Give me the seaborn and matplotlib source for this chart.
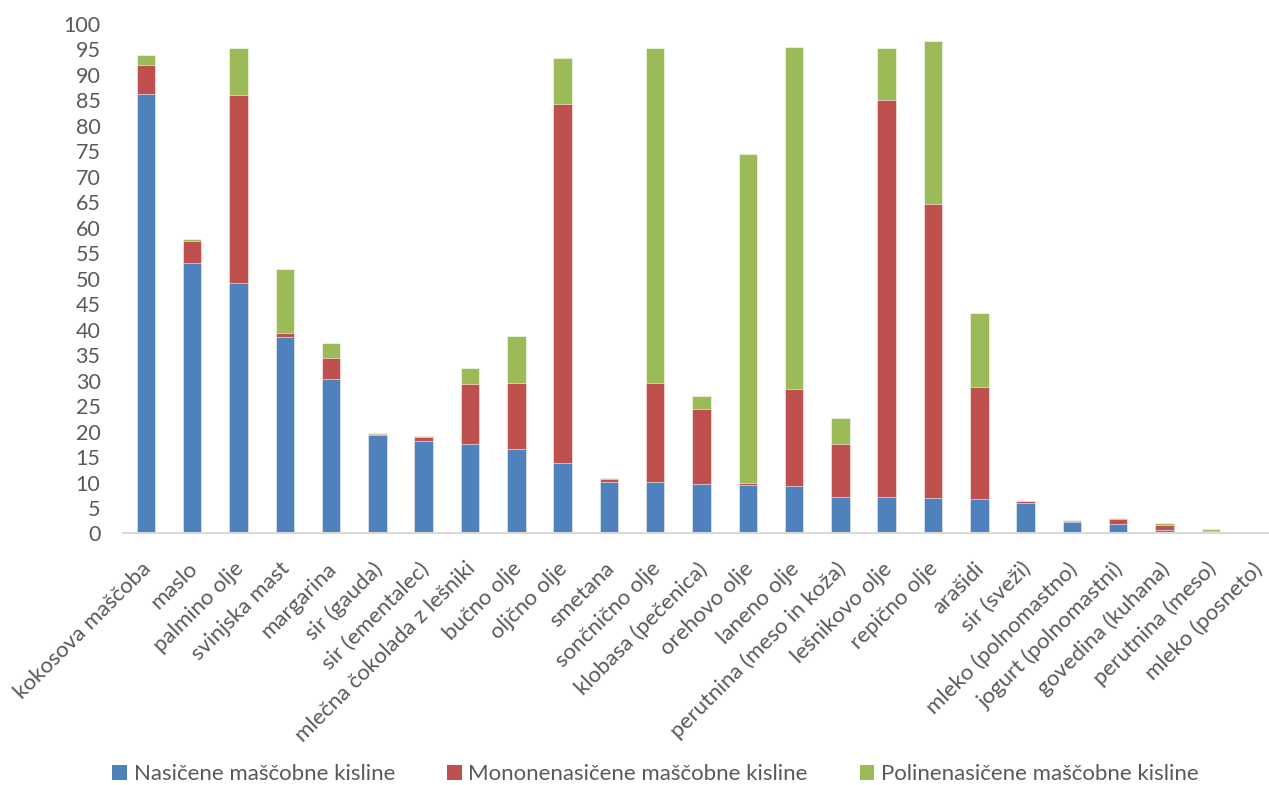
import matplotlib
matplotlib.use("Agg")
import matplotlib.pyplot as plt
from matplotlib.patches import Patch
import matplotlib.transforms as mtransforms
import numpy as np
import pandas as pd
import seaborn as sns

categories = [
    "kokosova maščoba", "maslo", "palmino olje", "svinjska mast", "margarina",
    "sir (gauda)", "sir (ementalec)", "mlečna čokolada z lešniki", "bučno olje",
    "oljčno olje", "smetana", "sončnično olje", "klobasa (pečenica)", "orehovo olje",
    "laneno olje", "perutnina (meso in koža)", "lešnikovo olje", "repično olje",
    "arašidi", "sir (sveži)", "mleko (polnomastno)", "jogurt (polnomastni)",
    "govedina (kuhana)", "perutnina (meso)", "mleko (posneto)",
]
nasicene = [86.3, 53.1, 49.1, 38.5, 30.3, 19.3, 18.1, 17.5, 16.5, 13.8, 10.2, 10.2,
            9.8, 9.6, 9.4, 7.2, 7.2, 7.0, 6.7, 6.0, 2.3, 1.9, 0.75, 0.1, 0.05]
mononenasicene = [5.7, 4.3, 36.9, 0.9, 4.2, 0.2, 0.8, 11.9, 13.1, 70.5, 0.5, 19.4,
                  14.7, 0.4, 19.0, 10.4, 77.9, 57.7, 22.1, 0.3, 0.15, 1.0, 0.95, 0.3, 0.05]
polinenasicene = [1.9, 0.5, 9.3, 12.5, 2.8, 0.3, 0.2, 3.1, 9.2, 9.1, 0.2, 65.6,
                  2.5, 64.4, 67.0, 5.0, 10.2, 32.0, 14.4, 0.1, 0.1, 0.15, 0.3, 0.4, 0.2]
series_names = ["Nasičene maščobne kisline", "Mononenasičene maščobne kisline",
                "Polinenasičene maščobne kisline"]
colors = ["#4F81BD", "#C0504D", "#9BBB59"]

df = pd.DataFrame({"kat": categories, "s": nasicene, "m": mononenasicene, "p": polinenasicene})
df["c1"] = df["s"]
df["c2"] = df["s"] + df["m"]
df["c3"] = df["s"] + df["m"] + df["p"]

sns.set_theme(style="white")
plt.rcParams["font.family"] = ["Lato", "DejaVu Sans"]
text_col = "#595959"

fig = plt.figure(figsize=(12.69, 7.85), dpi=100)
ax = fig.add_axes([0.0967, 0.3204, 0.9122, 0.649])

for col, c in zip(["c3", "c2", "c1"], [colors[2], colors[1], colors[0]]):
    sns.barplot(data=df, x="kat", y=col, color=c, saturation=1, width=0.4,
                errorbar=None, ax=ax, edgecolor="white", linewidth=0.4)

ax.set_ylim(0, 100)
ax.set_xlim(-0.5, len(categories) - 0.5)
ax.set_yticks(np.arange(0, 101, 5))
ax.set_xlabel("")
ax.set_ylabel("")
for s in ["top", "right", "left"]:
    ax.spines[s].set_visible(False)
ax.spines["bottom"].set_color("#d9d9d9")
ax.spines["bottom"].set_linewidth(1.5)
ax.tick_params(axis="y", length=0, pad=16, labelsize=15.5, labelcolor=text_col)
ax.tick_params(axis="x", length=0, pad=18, labelsize=16, labelcolor=text_col)
ax.set_xticks(range(len(categories)))
ax.set_xticklabels(categories, rotation=45, ha="right", va="top", rotation_mode="anchor")
offset = mtransforms.ScaledTranslation(-5 / 100, 0, fig.dpi_scale_trans)
for lab in ax.get_xticklabels():
    lab.set_transform(lab.get_transform() + offset)
ax.grid(False)

handles = [Patch(facecolor=c, edgecolor="none") for c in colors]
fig.legend(handles, series_names, loc="center", bbox_to_anchor=(0.5166, 0.014), ncol=3,
           frameon=False, fontsize=16, labelcolor=text_col, handlelength=0.65,
           handleheight=0.65, handletextpad=0.3, columnspacing=2.35)

fig.savefig("out.png", dpi=100)
